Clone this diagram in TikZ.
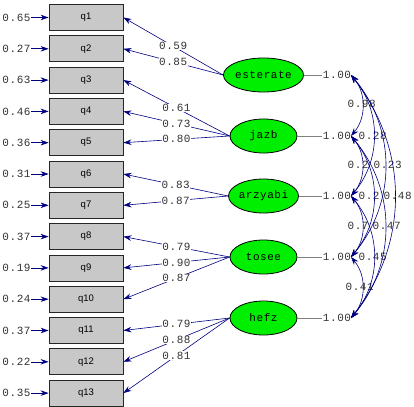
\documentclass[tikz,border=0pt]{standalone}
\usepackage{fontspec}
\newfontfamily\lmono[LetterSpace=5]{Liberation Mono}
\newfontfamily\lsans{Liberation Sans}
\usetikzlibrary{arrows.meta,shapes.geometric}
\definecolor{navy}{RGB}{0,0,128}
\definecolor{boxgray}{RGB}{200,200,200}
\definecolor{latgreen}{RGB}{0,238,0}
\begin{document}
\begin{tikzpicture}[x=1pt,y=-1pt,
  obs/.style={draw=black!85, fill=boxgray, minimum width=74pt, minimum height=26pt, inner sep=0pt, line width=0.8pt, font=\lsans\fontsize{9.5}{10}\selectfont},
  lat/.style={ellipse, draw=black, fill=latgreen, minimum width=67pt, minimum height=34pt, inner sep=0pt, line width=0.8pt, font=\lmono\fontsize{11}{12}\selectfont},
  num/.style={font=\lmono\fontsize{11}{12}\selectfont, inner sep=0.5pt, fill=white, text=black!80},
  errnum/.style={font=\lmono\fontsize{11}{12}\selectfont, inner sep=0.5pt, text=black!80},
  load/.style={draw=navy, line width=0.6pt, -{Stealth[length=8pt,width=5.5pt]}},
  cor/.style={draw=navy, line width=0.6pt, {Stealth[length=8pt,width=5.5pt]}-{Stealth[length=8pt,width=5.5pt]}},
  varline/.style={draw=gray, line width=0.6pt}
]
\useasboundingbox (0,0) rectangle (414,406);

% observed variables
\foreach \i in {1,...,13}{
  \node[obs] (q\i) at (86,{17.5+31.3*(\i-1)}) {q\i};
}
% error variances
\foreach \i/\v in {1/0.65,2/0.27,3/0.63,4/0.46,5/0.36,6/0.31,7/0.25,8/0.37,9/0.19,10/0.24,11/0.37,12/0.22,13/0.35}{
  \node[errnum] (r\i) at (16.5,{17.5+31.3*(\i-1)}) {\v};
  \draw[load] (r\i.east) -- (q\i.west);
}

% latent variables
\node[lat] (e1) at (263.5,75) {esterate};
\node[lat] (e2) at (263.5,136) {jazb};
\node[lat] (e3) at (263.5,196) {arzyabi};
\node[lat] (e4) at (263.5,257) {tosee};
\node[lat] (e5) at (263.5,318) {hefz};

% loadings
\draw[load] (e1.west) -- node[num]{0.59} (q1.east);
\draw[load] (e1.west) -- node[num]{0.85} (q2.east);
\draw[load] (e2.west) -- node[num]{0.61} (q3.east);
\draw[load] (e2.west) -- node[num]{0.73} (q4.east);
\draw[load] (e2.west) -- node[num]{0.80} (q5.east);
\draw[load] (e3.west) -- node[num]{0.83} (q6.east);
\draw[load] (e3.west) -- node[num]{0.87} (q7.east);
\draw[load] (e4.west) -- node[num]{0.79} (q8.east);
\draw[load] (e4.west) -- node[num]{0.90} (q9.east);
\draw[load] (e4.west) -- node[num]{0.87} (q10.east);
\draw[load] (e5.west) -- node[num]{0.79} (q11.east);
\draw[load] (e5.west) -- node[num]{0.88} (q12.east);
\draw[load] (e5.west) -- node[num]{0.81} (q13.east);

% variances of latent variables
\foreach \i/\y in {1/75,2/136,3/196,4/257,5/318}{
  \node[num] (v\i) at (337,\y) {1.00};
  \draw[varline] (e\i.east) -- (v\i.west);
  \coordinate (c\i) at (351,\y);
}

% correlation labels
\node[num, anchor=west] (k12) at (347,104) {0.98};
\node[num, anchor=west] (k13) at (358,136) {0.28};
\node[num, anchor=west] (k23) at (347,165) {0.2};
\node[num, anchor=west] (k14) at (373,165) {0.23};
\node[num, anchor=west] (k24) at (358,196) {0.2};
\node[num, anchor=west] (k15) at (383,196) {0.48};
\node[num, anchor=west] (k34) at (347,226) {0.7};
\node[num, anchor=west] (k25) at (372,226) {0.47};
\node[num, anchor=west] (k35) at (358,257) {0.45};
\node[num, anchor=west] (k45) at (345,287) {0.41};

% correlations
\draw[cor] (c1) to[bend left=40] (c2);
\draw[cor] (c1) to[bend left=40] (c3);
\draw[cor] (c1) to[bend left=40] (c4);
\draw[cor] (c1) to[bend left=38] (c5);
\draw[cor] (c2) to[bend left=40] (c3);
\draw[cor] (c2) to[bend left=40] (c4);
\draw[cor] (c2) to[bend left=40] (c5);
\draw[cor] (c3) to[bend left=40] (c4);
\draw[cor] (c3) to[bend left=40] (c5);
\draw[cor] (c4) to[bend left=40] (c5);
\end{tikzpicture}
\end{document}
